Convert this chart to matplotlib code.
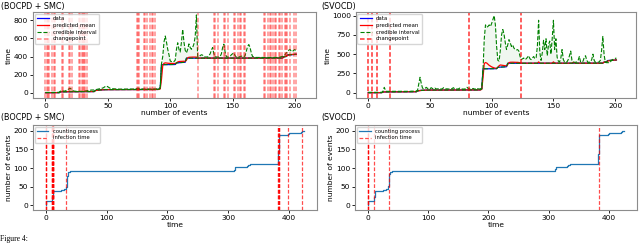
import numpy as np
import matplotlib
matplotlib.use("Agg")
import matplotlib.pyplot as plt

# ---------------- data ----------------
# arrival time of each event (event index 0..206)
arrival_times = [
    0, 0, 0, 0.2, 0.3, 0.4, 0.5, 0.6, 0.7, 0.8, 0.9, 1.0,
    10.0, 10.1, 10.2, 10.3, 10.4, 10.5, 10.6, 10.7, 10.8, 10.9, 11.0, 11.1, 11.2, 11.3,
    11.4, 11.5, 11.6, 11.7, 11.8, 11.9, 12.0, 12.1, 12.2, 12.3, 12.4, 12.5, 12.6, 12.8,
    25, 26,
    29, 30, 31, 32, 33,
    34.0, 34.0, 34.1, 34.1, 34.2, 34.2, 34.3, 34.3, 34.4, 34.4, 34.5, 34.5, 34.6, 34.6, 34.7,
    34.7, 34.8, 34.8, 34.9, 34.9, 35.0, 35.0, 35.1, 35.1, 35.2, 35.2, 35.3, 35.3, 35.4, 35.4,
    35.5, 35.5, 35.6, 35.6, 35.7, 35.7, 35.8, 35.8, 35.9, 35.9, 36.0, 36.0, 36.1, 36.1,
    40, 50,
    310, 310.2, 310.4, 310.6, 310.8, 311, 311.2, 311.4, 311.6, 311.8, 312, 312.2,
    330, 331, 332,
    334, 335, 336, 336.5, 337,
    382.0, 382.0, 382.0, 382.0, 382.0, 382.1, 382.1, 382.1, 382.1, 382.1, 382.2, 382.2, 382.2,
    382.2, 382.2, 382.3, 382.3, 382.3, 382.3, 382.3, 382.4, 382.4, 382.4, 382.4, 382.4, 382.5,
    382.5, 382.5, 382.5, 382.5, 382.6, 382.6, 382.6, 382.6, 382.6, 382.7, 382.7, 382.7, 382.7,
    382.7, 382.8, 382.8, 382.8, 382.8, 382.8, 382.9, 382.9, 382.9, 382.9, 382.9, 383.0, 383.0,
    383.0, 383.0, 383.0, 383.1, 383.1, 383.1, 383.1, 383.1, 383.2, 383.2, 383.2, 383.2, 383.2,
    383.3, 383.3, 383.3, 383.3, 383.3, 383.4, 383.4, 383.4, 383.5, 383.5, 383.6, 383.6, 383.6,
    398, 399, 400,
    418, 419, 420, 420.5, 421, 421.5,
    424, 425,
]

# predicted mean, BOCPD + SMC
mean_bocpd = [
    0, 0, 0, 0.2, 0.3, 0.4, 0.5, 0.6, 0.7, 0.8, 0.9, 1.0,
    9, 10, 10.5, 11, 11, 12, 12, 12, 12, 12, 12, 12, 12, 12,
    12, 12, 12, 12, 12, 12, 13, 13, 13, 13, 13, 13, 13, 13,
    24, 26,
    29, 30, 31, 32, 33,
    34, 34, 34, 34, 34, 34, 34, 34, 34, 34, 35, 35, 35, 35, 35,
    35, 35, 35, 35, 35, 35, 35, 35, 35, 35, 35, 35, 35, 35, 35,
    36, 36, 36, 36, 36, 36, 36, 36, 36, 36, 36, 36, 36, 36,
    36, 42,
    150, 300, 325, 330, 328, 326, 325, 325, 324, 324, 323, 323,
    328, 340, 345,
    346, 347, 348, 348, 348,
    360, 385, 392, 393, 393, 394, 394, 394, 394, 383, 383, 383, 383,
    383, 383, 383, 383, 383, 383, 383, 383, 383, 383, 383, 383, 383,
    383, 383, 383, 383, 383, 383, 383, 383, 383, 383, 383, 383, 383,
    383, 383, 383, 383, 383, 383, 383, 383, 383, 383, 383, 383, 383,
    383, 383, 383, 383, 383, 383, 383, 383, 383, 383, 383, 383, 383,
    383, 383, 383, 383, 383, 383, 383, 383, 383, 383, 383, 383, 383,
    392, 400, 404,
    412, 418, 421, 423, 424, 425,
    426, 426,
]

# upper bound of credible interval, BOCPD + SMC
upper_bocpd = [
    3, 3, 3, 3, 3, 3, 4, 4, 4, 4, 5, 5,
    18, 25, 20, 18, 20, 30, 35, 45, 48, 35, 22, 18, 16, 15,
    15, 16, 15, 15, 16, 18, 20, 22, 24, 26, 28, 30, 30, 30,
    33, 36,
    40, 42, 45, 48, 52,
    60, 70, 74, 65, 55, 48, 45, 44, 43, 42, 42, 41, 40, 40, 40,
    40, 40, 41, 41, 40, 40, 40, 40, 40, 41, 42, 45, 50, 48, 44,
    42, 41, 40, 40, 41, 41, 40, 40, 40, 40, 41, 41, 42, 43,
    45, 60,
    320, 400, 560, 627, 560, 480, 420, 350, 345, 340, 345, 360,
    480, 552, 480,
    450, 560, 700, 560, 470,
    440, 480, 540, 500, 480, 500, 540, 620, 860, 400, 395, 410, 420,
    415, 400, 395, 395, 395, 410, 430, 470, 500, 430, 400, 395, 395,
    395, 400, 430, 500, 537, 450, 400, 395, 395, 400, 420, 430, 441,
    410, 395, 392, 395, 400, 405, 400, 395, 410, 460, 510, 533, 500,
    440, 400, 395, 392, 390, 390, 390, 391, 390, 390, 390, 391, 390,
    390, 390, 390, 391, 390, 390, 392, 390, 390, 390, 395, 398, 400,
    405, 420, 440,
    450, 470, 478, 460, 455, 470,
    478, 450,
]

# predicted mean, SVOCD
mean_svocd = [
    0, 0, 0, 0.2, 0.3, 0.4, 0.5, 0.6, 0.7, 0.8, 0.9, 1.0,
    9, 10, 11, 11, 11, 12, 12, 12, 12, 12, 12, 12, 12, 12,
    12, 12, 12, 12, 12, 12, 13, 13, 13, 13, 13, 13, 13, 13,
    24, 26,
    29, 30, 31, 32, 33,
    34, 34, 34, 34, 34, 34, 34, 34, 34, 34, 35, 35, 35, 35, 35,
    35, 35, 35, 35, 35, 35, 35, 35, 35, 35, 35, 35, 35, 35, 35,
    36, 36, 36, 36, 36, 36, 36, 36, 36, 36, 36, 36, 36, 36,
    36, 45,
    200, 380, 391, 385, 370, 355, 345, 335, 328, 322, 318, 316,
    330, 350, 360,
    358, 355, 352, 350, 348,
    365, 390, 395, 396, 396, 395, 395, 394, 394, 392, 388, 385, 383,
    383, 383, 383, 383, 383, 383, 383, 383, 383, 383, 383, 383, 400,
    385, 383, 383, 383, 383, 383, 383, 383, 383, 383, 383, 400, 385,
    383, 383, 383, 383, 383, 383, 383, 383, 383, 383, 383, 383, 383,
    383, 395, 385, 383, 383, 383, 383, 383, 383, 383, 383, 383, 383,
    383, 383, 383, 383, 383, 383, 383, 383, 383, 383, 383, 383, 383,
    398, 395, 405,
    410, 415, 418, 420, 422, 423,
    424, 425,
]

# upper bound of credible interval, SVOCD
upper_svocd = [
    5, 5, 5, 5, 5, 5, 5, 5, 5, 5, 5, 5,
    20, 70, 30, 18, 18, 18, 18, 18, 18, 18, 18, 18, 18, 18,
    18, 18, 18, 18, 18, 18, 18, 18, 18, 20, 20, 20, 20, 20,
    35, 120,
    200, 120, 60, 50, 55,
    70, 55, 60, 50, 65, 55, 50, 60, 50, 48, 55, 50, 48, 50, 65,
    55, 50, 50, 48, 48, 50, 55, 65, 50, 55, 48, 48, 60, 50, 48,
    47, 48, 50, 70, 55, 50, 47, 48, 55, 48, 48, 60, 50, 48,
    50, 70,
    300, 700, 880, 850, 860, 880, 860, 900, 950, 1000, 880, 600,
    420, 410, 550,
    750, 820, 760, 650, 560,
    620, 690, 650, 600, 620, 580, 560, 555, 560, 540, 470, 430, 440,
    450, 430, 440, 460, 480, 440, 430, 450, 470, 440, 455, 600, 940,
    520, 420, 520, 680, 560, 700, 480, 620, 670, 500, 700, 940, 560,
    700, 460, 410, 400, 450, 560, 430, 400, 395, 400, 430, 480, 540,
    420, 400, 395, 395, 400, 420, 470, 400, 395, 410, 460, 480, 420,
    395, 395, 400, 430, 500, 420, 395, 395, 395, 400, 420, 550, 730,
    500, 395, 390,
    390, 390, 395, 420, 430, 440,
    445, 450,
]

# changepoints (event index)
changepoints_bocpd = [0, 1, 2, 3, 5, 7, 8, 13, 14, 19, 20, 21, 27, 28, 29, 30, 31, 32, 33,
                      73, 74, 75, 79, 80, 81, 84, 85, 86, 88,
                      122, 135, 136, 138, 143, 144, 146, 151, 152, 154, 156, 157, 159, 160,
                      175, 176, 178, 180, 181, 182, 184, 185, 187, 188, 190, 192, 193, 194,
                      196, 199, 201]
changepoints_svocd = [0, 3, 7, 18, 82, 124]

# infection times (time axis)
infection_bocpd = [0, 0.5, 1, 10, 10.3, 10.6, 10.9, 11.2, 11.5, 11.8, 12.0, 12.3, 12.6, 34,
                   382, 382.5, 383, 383.5, 384, 398, 421]
infection_svocd = [0, 0.3, 0.6, 10.8, 35.5, 384]

# ---------------- figure ----------------
FS = 5.4
plt.rcParams.update({
    "font.size": FS,
    "axes.linewidth": 0.8,
    "axes.edgecolor": "#8c8c8c",
    "xtick.major.size": 2.2,
    "ytick.major.size": 2.2,
    "xtick.major.width": 0.6,
    "ytick.major.width": 0.6,
    "xtick.labelsize": FS,
    "ytick.labelsize": FS,
    "xtick.major.pad": 1.5,
    "ytick.major.pad": 1.5,
})

fig = plt.figure(figsize=(6.4, 2.44), dpi=100)
ax1 = fig.add_axes([0.0516, 0.597, 0.4424, 0.354])
ax2 = fig.add_axes([0.556, 0.597, 0.438, 0.354])
ax3 = fig.add_axes([0.0516, 0.139, 0.4438, 0.349])
ax4 = fig.add_axes([0.555, 0.139, 0.44, 0.349])

events = np.arange(len(arrival_times))
t = np.array(arrival_times)


def top_panel(ax, mean, upper, cps, yticks, ylim, cp_alpha):
    ax.plot(events, t, color="b", lw=0.9, label="data")
    ax.plot(events, mean, color="r", lw=0.9, label="predicted mean")
    ax.plot(events, upper, color="g", ls="--", lw=0.8, label="credible interval")
    ax.plot(events, t, color="g", ls="--", lw=0.8)
    ax.fill_between(events, t, upper, color="g", alpha=0.06, lw=0)
    for i, c in enumerate(cps):
        ax.axvline(c, color="r", ls=(0, (3, 1.5)), lw=1.1, alpha=cp_alpha,
                   label="changepoint" if i == 0 else None)
    ax.set_xlim(-10, 217)
    ax.set_ylim(*ylim)
    ax.set_xticks([0, 50, 100, 150, 200])
    ax.set_yticks(yticks)
    ax.set_xlabel("number of events", fontsize=FS, labelpad=0.5)
    ax.set_ylabel("time", fontsize=FS, labelpad=1)
    ax.legend(loc="upper left", fontsize=3.9, borderaxespad=0.3, handlelength=2.2,
              framealpha=0.8, edgecolor="#cccccc", borderpad=0.4, labelspacing=0.35)


def bottom_panel(ax, infect):
    ax.step(t, events, where="post", color="#1f77b4", lw=0.9, label="counting process")
    for i, v in enumerate(infect):
        ax.axvline(v, color="r", ls=(0, (3, 1.5)), lw=0.9, alpha=0.7,
                   label="infection time" if i == 0 else None)
    ax.set_xlim(-21, 446)
    ax.set_ylim(-13, 216)
    ax.set_xticks([0, 100, 200, 300, 400])
    ax.set_yticks([0, 50, 100, 150, 200])
    ax.set_xlabel("time", fontsize=FS, labelpad=0.5)
    ax.set_ylabel("number of events", fontsize=FS, labelpad=1)
    ax.legend(loc="upper left", fontsize=3.8, borderaxespad=0.3, handlelength=2.2,
              framealpha=0.8, edgecolor="#cccccc", borderpad=0.4, labelspacing=0.35)


top_panel(ax1, mean_bocpd, upper_bocpd, changepoints_bocpd, [0, 200, 400, 600, 800], (-62, 893), 0.45)
top_panel(ax2, mean_svocd, upper_svocd, changepoints_svocd, [0, 250, 500, 750, 1000], (-73, 1048), 0.8)
bottom_panel(ax3, infection_bocpd)
bottom_panel(ax4, infection_svocd)

# panel titles
fig.text(0.001, 1 - 6 / 244, "(BOCPD + SMC)", fontsize=5.8, va="center", ha="left")
fig.text(0.502, 1 - 6 / 244, "(SVOCD)", fontsize=5.8, va="center", ha="left")
fig.text(0.001, 1 - 117 / 244, "(BOCPD + SMC)", fontsize=5.8, va="center", ha="left")
fig.text(0.502, 1 - 117 / 244, "(SVOCD)", fontsize=5.8, va="center", ha="left")

# caption line at the bottom edge
fig.text(0.0, 0.004, "Figure 4:", fontsize=5.5, va="bottom", ha="left",
         family=["Liberation Serif", "DejaVu Serif"])

fig.savefig("out.png", dpi=100)
